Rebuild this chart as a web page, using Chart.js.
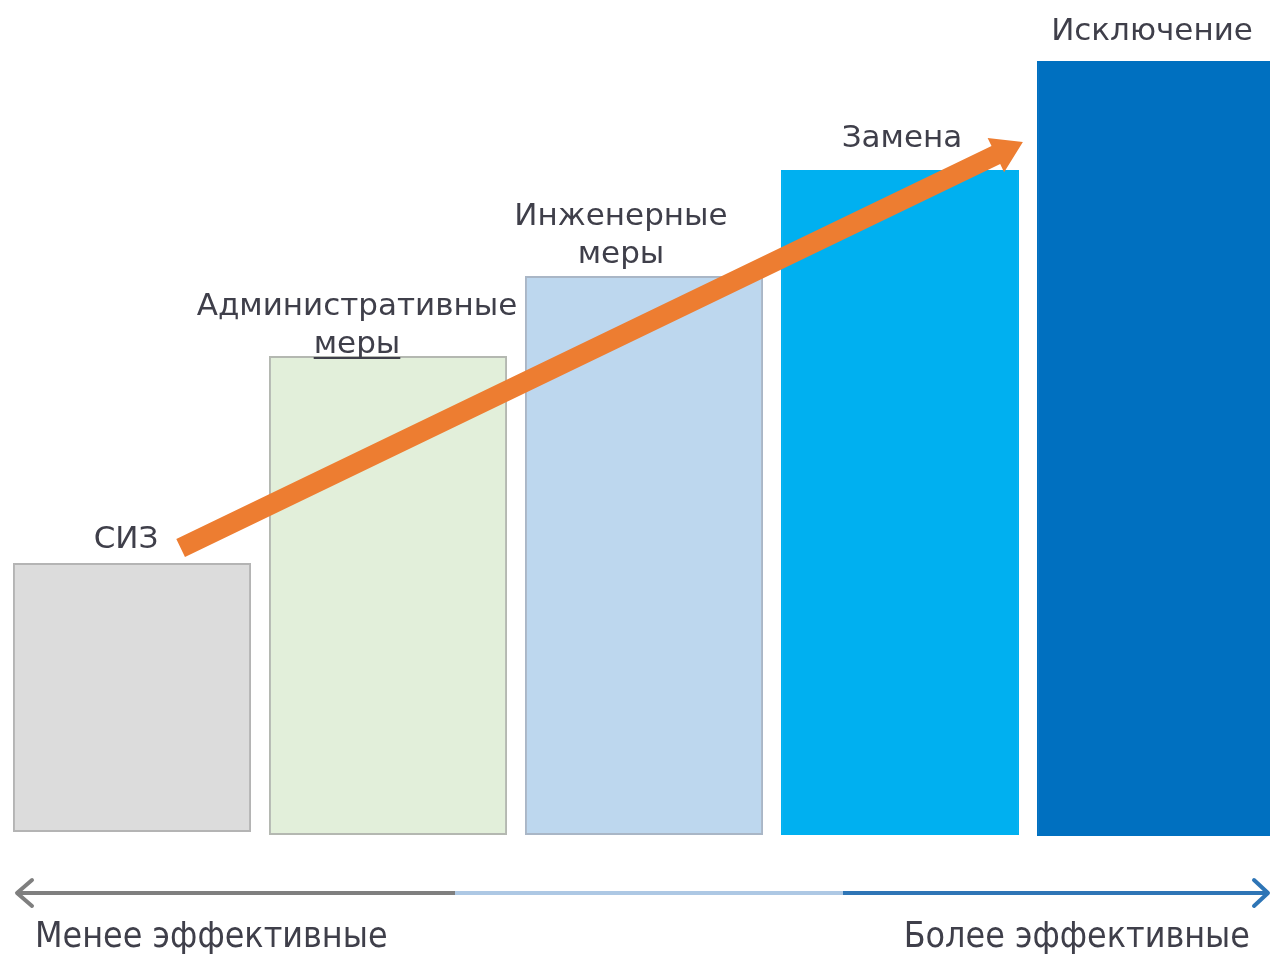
<!DOCTYPE html>
<html>
<head>
<meta charset="utf-8">
<script src="https://cdn.jsdelivr.net/npm/chart.js"></script>
<style>
  html, body { margin: 0; padding: 0; background: #fff; overflow: hidden; }
  #wrap { width: 1290px; height: 954px; position: relative; }
</style>
</head>
<body>
<div id="wrap"><canvas id="chart"></canvas></div>
<script>
// data
const categories = ['СИЗ', 'Административные меры', 'Инженерные меры', 'Замена', 'Исключение'];
const labelLines = [['СИЗ'], ['Административные', 'меры'], ['Инженерные', 'меры'], ['Замена'], ['Исключение']];
const barBase = [0.3, 0, 0, 0, -0.1];
const barTop = [27.2, 47.9, 55.9, 66.5, 77.4];
const trendFrom = [0.19, 28.7];
const trendTo = [3.48, 69.3];
const scaleLabels = ['Менее эффективные', 'Более эффективные'];

const fills = ['#dcdcdc', '#e2efda', '#bdd7ee', '#00b0f0', '#0070c0'];
const borders = ['#b4b4b4', '#b4b8b1', '#a9b6c6', '#00b0f0', '#0070c0'];
const textColor = '#3f3f4a';
const labelFont = '31px "DejaVu Sans"';

// label placement relative to bar top centre (px)
const labelDx = [-6, -31, -23, 2, -4];
const labelDy = [-15, -3, -13, -23, -21];
const lineGap = 38;

const decorPlugin = {
    id: 'decor',
    afterDatasetsDraw(chart) {
        const ctx = chart.ctx;
        const xs = chart.scales.x, ys = chart.scales.y;
        const bars = chart.getDatasetMeta(0).data;

        // labels above bars
        ctx.save();
        ctx.fillStyle = textColor;
        ctx.font = labelFont;
        ctx.textAlign = 'center';
        ctx.textBaseline = 'alphabetic';
        bars.forEach((bar, i) => {
            const lines = labelLines[i];
            const cx = bar.x + labelDx[i];
            const last = bar.y + labelDy[i];
            lines.forEach((t, j) => {
                const y = last - (lines.length - 1 - j) * lineGap;
                ctx.fillText(t, cx, y);
                if (i === 1 && j === 1) {
                    const w = ctx.measureText(t).width;
                    ctx.fillRect(cx - w / 2, y + 4, w, 2);
                }
            });
        });
        ctx.restore();

        // orange trend arrow
        const x1 = xs.getPixelForValue(trendFrom[0]), y1 = ys.getPixelForValue(trendFrom[1]);
        const x2 = xs.getPixelForValue(trendTo[0]), y2 = ys.getPixelForValue(trendTo[1]);
        const ang = Math.atan2(y2 - y1, x2 - x1);
        const len = Math.hypot(x2 - x1, y2 - y1);
        const sw = 10, hw = 19, hl = 30;
        ctx.save();
        ctx.translate(x1, y1);
        ctx.rotate(ang);
        ctx.fillStyle = '#ed7d31';
        ctx.beginPath();
        ctx.moveTo(0, -sw);
        ctx.lineTo(len - hl, -sw);
        ctx.lineTo(len - hl, -hw);
        ctx.lineTo(len, 0);
        ctx.lineTo(len - hl, hw);
        ctx.lineTo(len - hl, sw);
        ctx.lineTo(0, sw);
        ctx.closePath();
        ctx.fill();
        ctx.restore();

        // bottom effectiveness arrow
        const ay = 893;
        ctx.save();
        ctx.lineWidth = 4;
        ctx.lineCap = 'butt';
        [[17, 455, '#7f7f7f'], [455, 843, '#adc8e4'], [843, 1266, '#2e75b6']].forEach(s => {
            ctx.strokeStyle = s[2];
            ctx.beginPath();
            ctx.moveTo(s[0], ay);
            ctx.lineTo(s[1], ay);
            ctx.stroke();
        });
        ctx.lineCap = 'round';
        ctx.lineJoin = 'round';
        ctx.strokeStyle = '#7f7f7f';
        ctx.beginPath();
        ctx.moveTo(32, ay - 13);
        ctx.lineTo(17, ay);
        ctx.lineTo(32, ay + 13);
        ctx.stroke();
        ctx.strokeStyle = '#2e75b6';
        ctx.beginPath();
        ctx.moveTo(1254, ay - 13);
        ctx.lineTo(1268, ay);
        ctx.lineTo(1254, ay + 13);
        ctx.stroke();

        ctx.fillStyle = textColor;
        ctx.font = '35.5px "DejaVu Sans Condensed", "Liberation Sans Narrow", "DejaVu Sans"';
        ctx.textBaseline = 'alphabetic';
        ctx.textAlign = 'left';
        ctx.fillText(scaleLabels[0], 35, 947);
        ctx.textAlign = 'right';
        ctx.fillText(scaleLabels[1], 1250, 947);
        ctx.restore();
    }
};

new Chart(document.getElementById('chart'), {
    type: 'bar',
    data: {
        labels: categories,
        datasets: [{
            data: barTop.map((v, i) => [barBase[i], v]),
            backgroundColor: fills,
            borderColor: borders,
            borderWidth: 2,
            borderSkipped: false,
            barPercentage: 0.93,
            categoryPercentage: 1
        }]
    },
    options: {
        responsive: true,
        maintainAspectRatio: false,
        animation: false,
        devicePixelRatio: 1,
        layout: { padding: { left: 4, right: 6, top: 0, bottom: 0 } },
        plugins: { legend: { display: false }, tooltip: { enabled: false } },
        scales: {
            x: { display: false },
            y: { display: false, min: -11.9, max: 83.5 }
        }
    },
    plugins: [decorPlugin]
});
</script>
</body>
</html>
